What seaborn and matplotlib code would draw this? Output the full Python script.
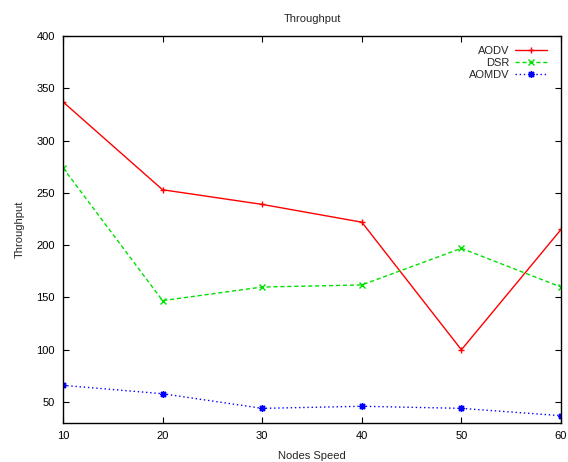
import matplotlib
matplotlib.use("Agg")
import matplotlib.pyplot as plt
import seaborn as sns
import pandas as pd

speeds = [10, 20, 30, 40, 50, 60]
aodv = [337, 253, 239, 222, 100, 215]
dsr = [274, 147, 160, 162, 197, 160]
aomdv = [66, 58, 44, 46, 44, 37]

series_names = ["AODV", "DSR", "AOMDV"]
series_values = [aodv, dsr, aomdv]
colors = ["#ff0000", "#00e000", "#0000ff"]
dashes = ["-", (0, (3, 2)), (0, (1, 2))]
markers = ["+", "x", (8, 2, 0)]

sns.set_theme(style="ticks")
plt.rcParams["font.family"] = ["Liberation Sans", "DejaVu Sans"]

fig = plt.figure(figsize=(5.68, 4.62), dpi=100)
ax = fig.add_axes([0.1109, 0.0844, 0.8768, 0.8377])

for name, vals, c, ls, m in zip(series_names, series_values, colors, dashes, markers):
    df = pd.DataFrame({"speed": speeds, "thr": vals})
    sns.lineplot(data=df, x="speed", y="thr", ax=ax, color=c, linestyle=ls,
                 marker=m, markersize=5, markeredgewidth=1.0, linewidth=1.0,
                 label=name, markeredgecolor=c)

ax.set_xlim(10, 60)
ax.set_ylim(30, 400)
ax.set_xticks(speeds)
ax.set_yticks([50, 100, 150, 200, 250, 300, 350, 400])
ax.tick_params(direction="in", top=True, right=True, labelsize=8, length=4,
               width=0.8, pad=6, colors="black")
for s in ax.spines.values():
    s.set_linewidth(1.0)
    s.set_color("black")
ax.set_xlabel("Nodes Speed", fontsize=8, labelpad=7)
ax.set_ylabel("Throughput", fontsize=8, labelpad=8)
ax.set_title("Throughput", fontsize=8, pad=10)

leg = ax.legend(loc="upper right", frameon=False, markerfirst=False, fontsize=8,
                handlelength=2.9, handletextpad=0.45, labelspacing=0.2,
                borderaxespad=0.0, borderpad=0.0,
                bbox_to_anchor=(0.972, 0.975))
for t in leg.get_texts():
    t.set_ha("right")

fig.savefig("out.png", dpi=100, facecolor="white")
